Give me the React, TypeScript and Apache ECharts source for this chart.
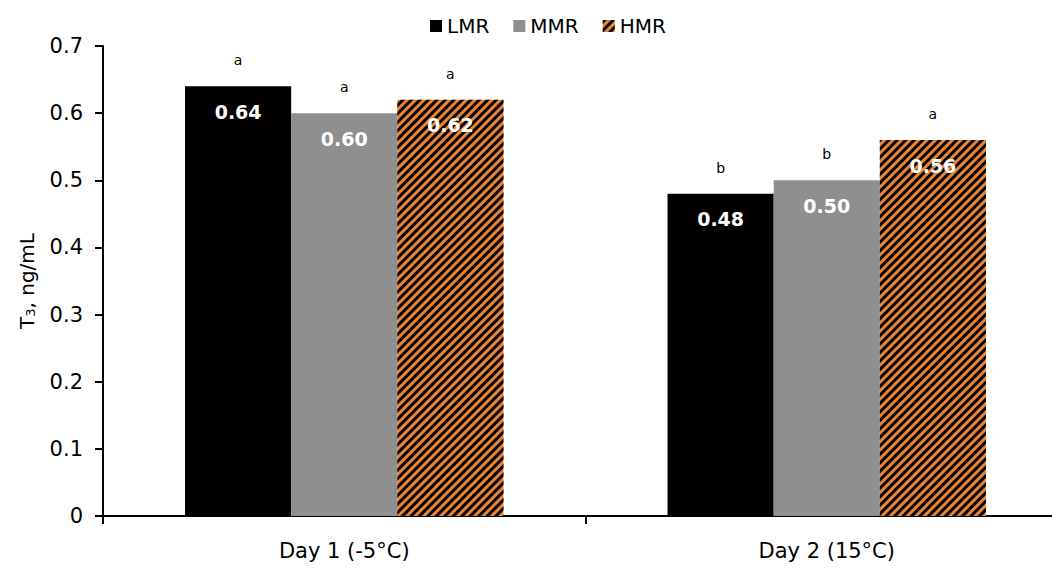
import React, { useEffect, useRef } from "react";
import * as echarts from "echarts";

const categories = ["Day 1 (-5°C)", "Day 2 (15°C)"];
const lmr = [0.64, 0.48];
const mmr = [0.6, 0.5];
const hmr = [0.62, 0.56];
const lmrLetters = ["a", "b"];
const mmrLetters = ["a", "b"];
const hmrLetters = ["a", "a"];
const yTicks = [0, 0.1, 0.2, 0.3, 0.4, 0.5, 0.6, 0.7];

const FONT = "'DejaVu Sans', sans-serif";

export default function App() {
  const ref = useRef<HTMLDivElement>(null);
  useEffect(() => {
    const chart = echarts.init(ref.current!, undefined, { renderer: "svg" });
    const valueLabel = {
      show: true,
      position: "insideTop",
      distance: 16,
      color: "#fff",
      fontSize: 19,
      fontWeight: "bold",
      fontFamily: FONT,
      formatter: (p: any) => p.value.toFixed(2),
    };
    const main = (name: string, data: number[], color: string, stack: string, extra: any = {}) => ({
      name,
      type: "bar",
      stack,
      data,
      barGap: "0%",
      barCategoryGap: "34%",
      itemStyle: { color, ...extra },
      label: valueLabel,
    });
    const letter = (stack: string, letters: string[]) => ({
      name: stack + "_letters",
      type: "bar",
      stack,
      data: letters.map(() => 0),
      itemStyle: { color: "transparent" },
      label: {
        show: true,
        position: "top",
        distance: 19,
        color: "#000",
        fontSize: 14,
        fontFamily: FONT,
        formatter: (p: any) => letters[p.dataIndex],
      },
    });
    chart.setOption({
      animation: false,
      legend: {
        data: ["LMR", "MMR", "HMR"],
        top: 11,
        left: 425,
        icon: "rect",
        itemWidth: 12,
        itemHeight: 12,
        itemGap: 24,
        textStyle: { fontSize: 20, fontFamily: FONT, color: "#000" },
      },
      grid: { left: 103, right: 0, top: 46, height: 470, containLabel: false },
      xAxis: {
        type: "category",
        data: categories,
        axisLine: { lineStyle: { color: "#000", width: 2 } },
        axisTick: { show: true, length: 8, lineStyle: { color: "#000", width: 2 } },
        axisLabel: { fontSize: 21, fontFamily: FONT, color: "#000", margin: 24 },
      },
      yAxis: {
        type: "value",
        min: 0,
        max: 0.7,
        interval: 0.1,
        splitLine: { show: false },
        axisLine: { show: true, lineStyle: { color: "#000", width: 2 } },
        axisTick: { show: true, length: 8, lineStyle: { color: "#000", width: 2 } },
        axisLabel: {
          fontSize: 21,
          fontFamily: FONT,
          color: "#000",
          margin: 20,
          formatter: (v: number) => {
            const t = yTicks.find((x) => Math.abs(x - v) < 1e-9);
            return t === 0 ? "0" : (t ?? v).toFixed(1);
          },
        },
        name: "{t|T}{s|3}{t|, ng/mL}",
        nameLocation: "middle",
        nameGap: 66,
        nameTextStyle: {
          rich: {
            t: { fontSize: 20, fontFamily: FONT, color: "#000" },
            s: { fontSize: 13, fontFamily: FONT, color: "#000", verticalAlign: "bottom", padding: [8, 0, 0, 0] },
          },
        },
      },
      series: [
        main("LMR", lmr, "#000000", "L"),
        main("MMR", mmr, "#8f8f8f", "M"),
        main("HMR", hmr, "#ed8433", "H", {
          decal: {
            symbol: "rect",
            symbolSize: 1,
            color: "#000",
            dashArrayX: [1, 0],
            dashArrayY: [3, 3],
            rotation: -Math.PI / 4,
          },
        }),
        letter("L", lmrLetters),
        letter("M", mmrLetters),
        letter("H", hmrLetters),
      ],
    });
    return () => chart.dispose();
  }, []);
  return (
    <div
      style={{ position: "absolute", left: 0, top: 0, width: 1052, height: 573, overflow: "hidden", background: "#fff" }}
    >
      <div ref={ref} style={{ width: 1068, height: 573 }} />
    </div>
  );
}
